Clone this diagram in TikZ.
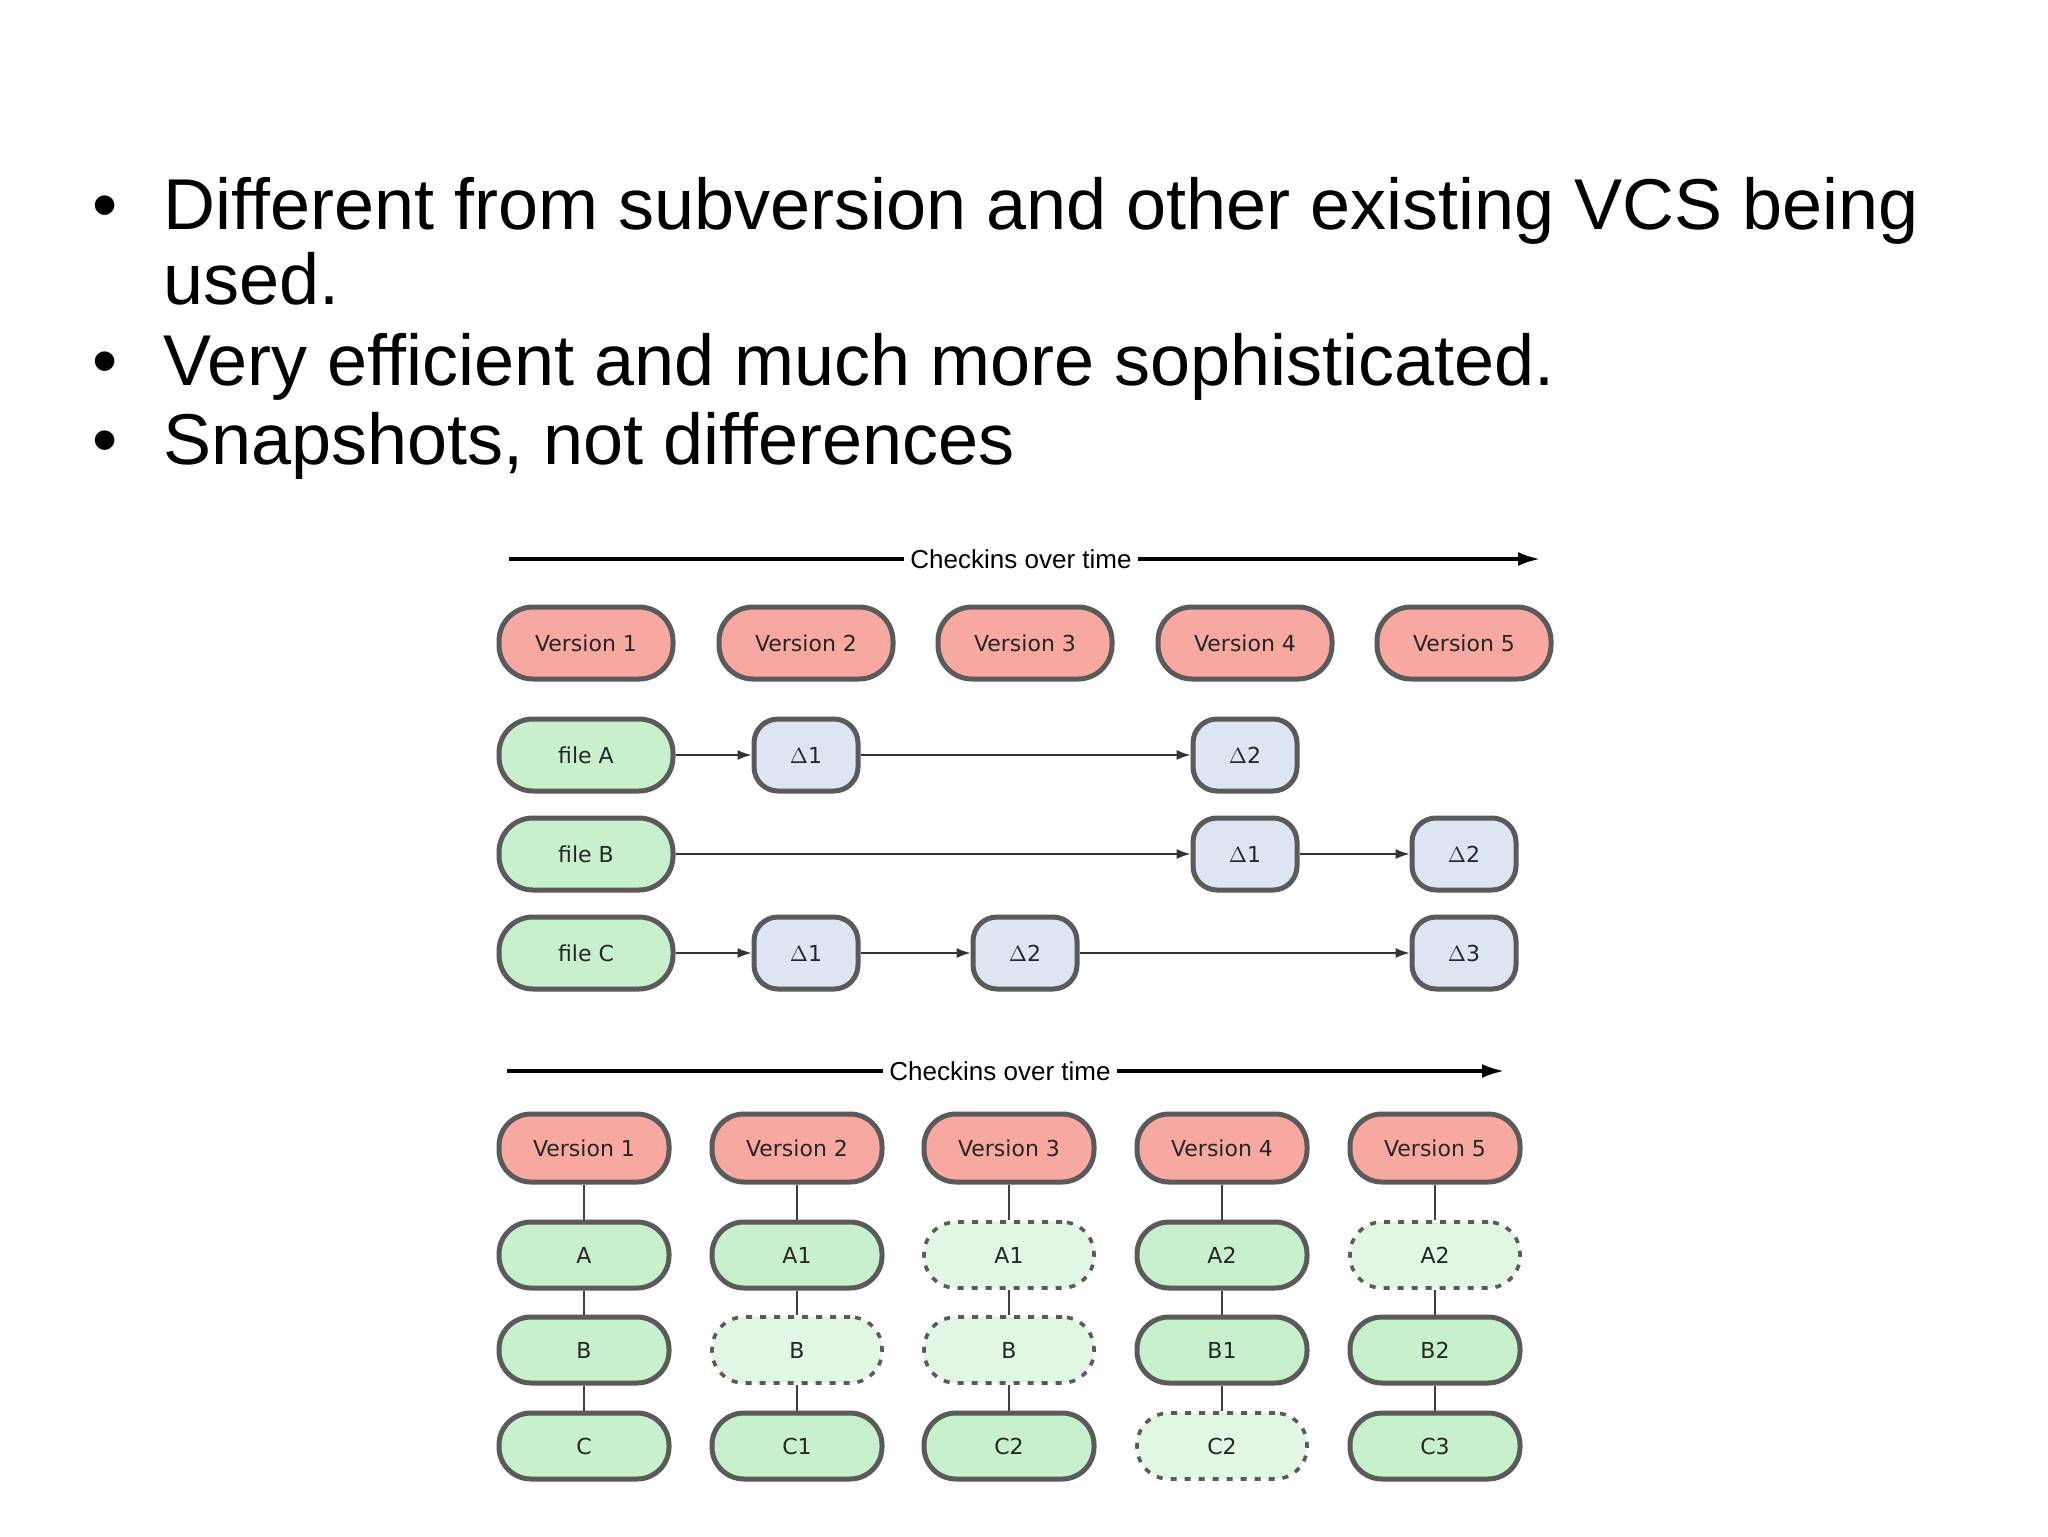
\documentclass[tikz,border=0pt]{standalone}
\usepackage{fontspec}
\setmainfont{Liberation Sans}
\newfontfamily\dia{DejaVu Sans}
\usetikzlibrary{arrows.meta}
\definecolor{vred}{HTML}{F7A8A0}
\definecolor{fgreen}{HTML}{C8F0CC}
\definecolor{lgreen}{HTML}{E2F6E4}
\definecolor{dblue}{HTML}{DDE5F2}
\definecolor{bord}{HTML}{5A5A5A}
\tikzset{
  pill/.style={draw=bord, line width=2.5pt, rounded corners=17pt, minimum height=36pt, inner sep=0pt, font=\dia\fontsize{11}{13}\selectfont, text=black!85},
  ver/.style={pill, fill=vred, minimum width=87pt},
  fil/.style={pill, fill=fgreen, minimum width=87pt},
  dlt/.style={pill, fill=dblue, minimum width=52pt, rounded corners=12pt},
  ver2/.style={pill, fill=vred, minimum width=85pt, minimum height=34pt, rounded corners=16pt},
  snap/.style={pill, fill=fgreen, minimum width=85pt, minimum height=33pt, rounded corners=16pt},
  snapd/.style={snap, fill=lgreen, line width=1.8pt, dash pattern=on 3pt off 4pt},
  tl/.style={line width=1.6pt},
  arr/.style={line width=0.7pt, draw=black!80, -{Latex[length=7pt,width=5pt]}},
  lnk/.style={line width=1pt, draw=black!75},
  bul/.style={anchor=base west, inner sep=0pt, font=\fontsize{36}{40}\selectfont},
  lab/.style={fill=white, inner sep=3pt, font=\fontsize{13}{15}\selectfont}
}
\begin{document}
\begin{tikzpicture}[x=0.5pt,y=-0.5pt]
\useasboundingbox[fill=white] (0,0) rectangle (2048,1536);
% bullets
\node[bul] (b1) at (92,229) {•};
\node[bul] (t1) at (163,229) {Different from subversion and other existing VCS being};
\node[bul] (t1b) at (163,304) {used.};
\node[bul] (b2) at (92,385) {•};
\node[bul] (t2) at (163,385) {Very efficient and much more sophisticated.};
\node[bul] (b3) at (92,464) {•};
\node[bul] (t3) at (163,464) {Snapshots, not differences};
% diagram 1
\coordinate (a1s) at (509,559); \coordinate (a1e) at (1540,559);
\draw[tl,-{Latex[length=11pt,width=7pt]}] (a1s) -- (a1e);
\node[lab] (l1) at (1021,559) {Checkins over time};
\foreach \i/\x in {1/586,2/806,3/1025,4/1245,5/1464}
  \node[ver] (v\i) at (\x,643) {Version \i};
\node[fil] (fa) at (586,755) {file A};
\node[fil] (fb) at (586,854) {file B};
\node[fil] (fc) at (586,953) {file C};
\node[dlt] (a1) at (806,755) {$\Delta$1};
\node[dlt] (a2) at (1245,755) {$\Delta$2};
\node[dlt] (bb1) at (1245,854) {$\Delta$1};
\node[dlt] (bb2) at (1464,854) {$\Delta$2};
\node[dlt] (c1) at (806,953) {$\Delta$1};
\node[dlt] (c2) at (1025,953) {$\Delta$2};
\node[dlt] (c3) at (1464,953) {$\Delta$3};
\draw[arr] (fa) -- (a1); \draw[arr] (a1) -- (a2);
\draw[arr] (fb) -- (bb1); \draw[arr] (bb1) -- (bb2);
\draw[arr] (fc) -- (c1); \draw[arr] (c1) -- (c2); \draw[arr] (c2) -- (c3);
% diagram 2
\coordinate (a2s) at (507,1071); \coordinate (a2e) at (1504,1071);
\draw[tl,-{Latex[length=11pt,width=7pt]}] (a2s) -- (a2e);
\node[lab] (l2) at (1000,1071) {Checkins over time};
\foreach \i/\x in {1/584,2/797,3/1009,4/1222,5/1435}
  \node[ver2] (w\i) at (\x,1148) {Version \i};
\node[snap] (A1) at (584,1255) {A};
\node[snap] (B1) at (584,1350) {B};
\node[snap] (C1) at (584,1446) {C};
\node[snap] (A2) at (797,1255) {A1};
\node[snapd] (B2) at (797,1350) {B};
\node[snap] (C2) at (797,1446) {C1};
\node[snapd] (A3) at (1009,1255) {A1};
\node[snapd] (B3) at (1009,1350) {B};
\node[snap] (C3) at (1009,1446) {C2};
\node[snap] (A4) at (1222,1255) {A2};
\node[snap] (B4) at (1222,1350) {B1};
\node[snapd] (C4) at (1222,1446) {C2};
\node[snapd] (A5) at (1435,1255) {A2};
\node[snap] (B5) at (1435,1350) {B2};
\node[snap] (C5) at (1435,1446) {C3};
\foreach \i in {1,...,5} {
  \draw[lnk] (w\i.south) -- (A\i.north);
  \draw[lnk] (A\i.south) -- (B\i.north);
  \draw[lnk] (B\i.south) -- (C\i.north);
}
\end{tikzpicture}
\end{document}
